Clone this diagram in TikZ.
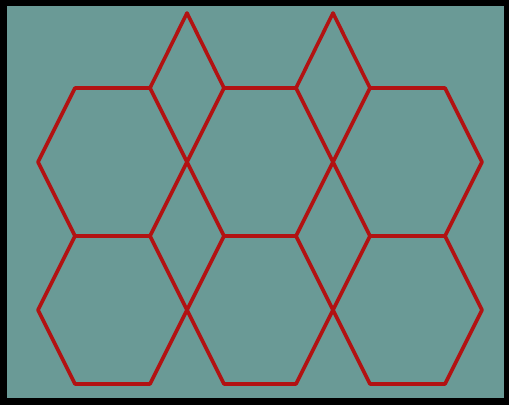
\documentclass[tikz,border=0pt]{standalone}
\definecolor{bgteal}{RGB}{106,154,150}
\definecolor{hexred}{RGB}{178,18,18}
\tikzset{
  hexline/.style={draw=hexred, line width=3.6pt, line join=round, line cap=round},
}
\begin{document}
\begin{tikzpicture}[x=1pt,y=-1pt]
\useasboundingbox (0,0) rectangle (509,405);
\fill[black] (0,0) rectangle (509,405);
\fill[bgteal] (7,6) rectangle (504,398);
% row 1 hexagons
\foreach \dy in {0,148}{
  \draw[hexline] (75,88+\dy) -- (150,88+\dy) -- (187,162+\dy) -- (150,236+\dy) -- (75,236+\dy) -- (38,162+\dy) -- cycle;
  \draw[hexline] (224,88+\dy) -- (296,88+\dy) -- (333,162+\dy) -- (296,236+\dy) -- (224,236+\dy) -- (187,162+\dy) -- cycle;
  \draw[hexline] (370,88+\dy) -- (445,88+\dy) -- (482,162+\dy) -- (445,236+\dy) -- (370,236+\dy) -- (333,162+\dy) -- cycle;
}
% top diamonds
\draw[hexline] (150,88) -- (187,13) -- (224,88);
\draw[hexline] (296,88) -- (333,13) -- (370,88);
\end{tikzpicture}
\end{document}
